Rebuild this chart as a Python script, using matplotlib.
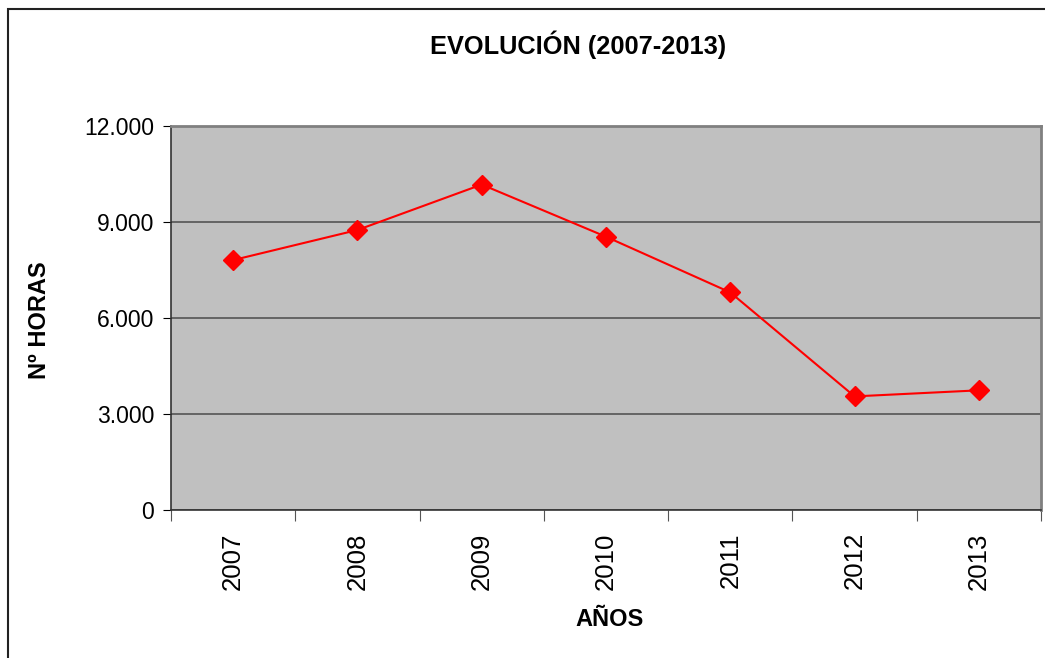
import numpy as np
import matplotlib.pyplot as plt
from matplotlib.patches import Rectangle
from matplotlib.ticker import FuncFormatter

plt.rcParams['font.family'] = ['Liberation Sans', 'DejaVu Sans']

years = ["2007", "2008", "2009", "2010", "2011", "2012", "2013"]
hours = [7810, 8750, 10170, 8540, 6800, 3550, 3740]
yticks = [0, 3000, 6000, 9000, 12000]

fig = plt.figure(figsize=(10.45, 6.58), dpi=100)
ax = fig.add_axes([171 / 1045, 1 - 510 / 658, 870 / 1045, 384 / 658])

# outer chart border (runs off the right and bottom edges)
fig.patches.append(Rectangle((8 / 1045, -0.1), 1.2, 1 - 9 / 658 + 0.1,
                             transform=fig.transFigure, fill=False,
                             edgecolor='#222222', linewidth=1.5))

ax.set_facecolor('#c0c0c0')
x = np.arange(len(years))
ax.plot(x, hours, color='#ff0000', linewidth=1.5, marker='D', markersize=10,
        markeredgecolor='#ff0000', zorder=3)

ax.set_xlim(-0.5, len(years) - 0.5)
ax.set_ylim(0, 12000)
ax.set_yticks(yticks)
ax.yaxis.set_major_formatter(FuncFormatter(lambda v, p: f"{int(v):,}".replace(",", ".")))
ax.grid(axis='y', color='#555555', linewidth=1.2)
ax.set_axisbelow(True)

ax.set_xticks(np.arange(len(years) + 1) - 0.5)
ax.set_xticklabels([])
ax.set_xticks(x, minor=True)
ax.set_xticklabels(years, minor=True, rotation=90, fontsize=18.5)
ax.tick_params(axis='x', which='minor', length=0, pad=16)
ax.tick_params(axis='x', which='major', length=8, direction='out', color='#555555')
ax.tick_params(axis='y', length=6, direction='out', labelsize=16.5, pad=6)

for s in ['top', 'right']:
    ax.spines[s].set_color('#808080')
    ax.spines[s].set_linewidth(2)
for s in ['left', 'bottom']:
    ax.spines[s].set_color('#333333')
    ax.spines[s].set_linewidth(1.2)

fig.text(578 / 1045, 1 - 45 / 658, "EVOLUCIÓN (2007-2013)", ha='center', va='center',
         fontsize=18.3, fontweight='bold')
fig.text(610 / 1045, 1 - 619 / 658, "AÑOS", ha='center', va='center',
         fontsize=17, fontweight='bold')
fig.text(40 / 1045, 1 - 320 / 658, "Nº HORAS", ha='center', va='center',
         rotation=90, fontsize=17, fontweight='bold')

fig.savefig("out.png", dpi=100)
